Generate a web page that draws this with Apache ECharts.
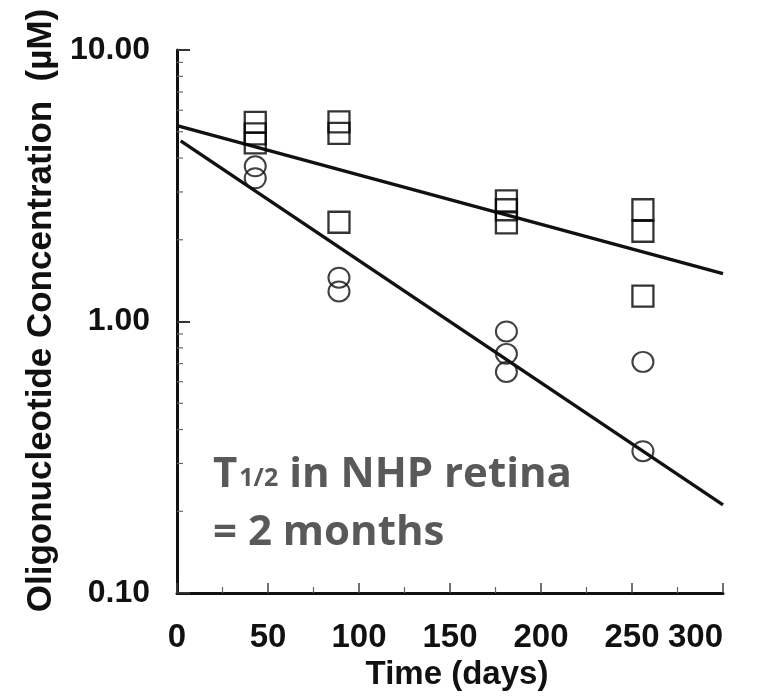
<!DOCTYPE html>
<html>
<head>
<meta charset="utf-8">
<script src="https://cdn.jsdelivr.net/npm/echarts@6/dist/echarts.min.js"></script>
<style>
  html, body { margin: 0; padding: 0; background: #fff; }
  #chart { width: 758px; height: 700px; }
</style>
</head>
<body>
<div id="chart"></div>
<script>
// Measured oligonucleotide concentrations (µM) vs time (days)
const squareDays   = [43, 43, 43, 89, 89, 89, 181, 181, 181, 256, 256, 256];
const squareConc   = [5.41, 4.91, 4.55, 5.44, 4.93, 2.32, 2.78, 2.58, 2.31, 2.58, 2.15, 1.24];
const circleDays   = [43, 43, 89, 89, 181, 181, 181, 256, 256];
const circleConc   = [3.73, 3.37, 1.45, 1.29, 0.919, 0.760, 0.652, 0.710, 0.333];

// Exponential decay fits (straight lines on the log axis)
const fitSquareDays = [0, 300];
const fitSquareConc = [5.27, 1.50];
const fitCircleDays = [2, 300];
const fitCircleConc = [4.63, 0.211];

// Axis ticks
const xTicks = [0, 50, 100, 150, 200, 250, 300];
const yMinorTicks = [0.2, 0.3, 0.4, 0.5, 0.6, 0.7, 0.8, 0.9, 2, 3, 4, 5, 6, 7, 8, 9];

const zip = (a, b) => a.map((v, i) => [v, b[i]]);
const FONT = '"Liberation Sans", Arial, Helvetica, sans-serif';
const NOTE_FONT = '"Open Sans", "Noto Sans", sans-serif';
const INK = '#111';
const NOTE = '#595959';

const chart = echarts.init(document.getElementById('chart'), null, { renderer: 'canvas' });

chart.setOption({
  animation: false,
  backgroundColor: '#fff',
  grid: { left: 177, right: 35, top: 50, bottom: 107, containLabel: false },
  xAxis: {
    type: 'value',
    min: xTicks[0],
    max: xTicks[xTicks.length - 1],
    interval: 50,
    name: 'Time (days)',
    nameLocation: 'middle',
    nameGap: 48,
    nameTextStyle: { fontFamily: FONT, fontWeight: 'bold', fontSize: 33, color: INK, padding: [0, 0, 0, 14] },
    axisLine: { show: true, onZero: false, lineStyle: { color: INK, width: 3 } },
    axisTick: { show: true, inside: true, length: 10, lineStyle: { color: '#444', width: 1.5 } },
    minorTick: { show: true, splitNumber: 2, length: 6, lineStyle: { color: '#666', width: 1.2 } },
    axisLabel: { fontFamily: FONT, fontWeight: 'bold', fontSize: 33, color: INK, margin: 28, alignMaxLabel: 'right' },
    splitLine: { show: false }
  },
  yAxis: {
    type: 'log',
    logBase: 10,
    min: 0.1,
    max: 10,
    name: 'Oligonucleotide Concentration  (\u00b5M)',
    nameLocation: 'middle',
    nameGap: 118,
    nameTextStyle: { fontFamily: FONT, fontWeight: 'bold', fontSize: 35, color: INK, padding: [0, 0, 0, 22] },
    axisLine: { show: true, onZero: false, lineStyle: { color: INK, width: 3 } },
    axisTick: { show: true, inside: true, length: 13, lineStyle: { color: '#333', width: 2 } },
    axisLabel: {
      fontFamily: FONT, fontWeight: 'bold', fontSize: 32, color: INK, margin: 27,
      formatter: v => Number(v).toFixed(2)
    },
    splitLine: { show: false }
  },
  series: [
    {
      // log-axis minor ticks at 2..9 of each decade
      type: 'custom',
      silent: true,
      clip: false,
      data: yMinorTicks.map(v => [0, v]),
      renderItem: (params, api) => {
        const p = api.coord([api.value(0), api.value(1)]);
        return {
          type: 'line',
          shape: { x1: p[0], y1: p[1], x2: p[0] + 6, y2: p[1] },
          style: { stroke: '#666', lineWidth: 1.2 }
        };
      },
      z: 1
    },
    {
      name: 'fit-squares',
      type: 'line',
      data: zip(fitSquareDays, fitSquareConc),
      showSymbol: false,
      lineStyle: { color: INK, width: 3.4 },
      clip: false,
      z: 3
    },
    {
      name: 'fit-circles',
      type: 'line',
      data: zip(fitCircleDays, fitCircleConc),
      showSymbol: false,
      lineStyle: { color: INK, width: 3.4 },
      clip: false,
      z: 3
    },
    {
      name: 'squares',
      type: 'scatter',
      data: zip(squareDays, squareConc),
      symbol: 'rect',
      symbolSize: 21,
      itemStyle: { color: 'rgba(0,0,0,0)', borderColor: '#000', borderWidth: 2.3 },
      z: 4
    },
    {
      name: 'circles',
      type: 'scatter',
      data: zip(circleDays, circleConc),
      symbol: 'circle',
      symbolSize: [21, 20],
      itemStyle: { color: 'rgba(0,0,0,0)', borderColor: '#111', borderWidth: 2 },
      z: 4
    }
  ],
  graphic: [
    {
      type: 'text',
      left: 213,
      top: 454,
      z: 10,
      style: {
        text: '{a|T}{b|1/2}{a| in NHP retina}',
        rich: {
          a: { fontFamily: NOTE_FONT, fontWeight: 'bold', fontSize: 42, fill: NOTE, lineHeight: 48, verticalAlign: 'bottom' },
          b: { fontFamily: NOTE_FONT, fontWeight: 'bold', fontSize: 25, fill: NOTE, lineHeight: 48, verticalAlign: 'bottom', padding: [0, 0, 5, 2] }
        }
      }
    },
    {
      type: 'text',
      left: 213,
      top: 509,
      z: 10,
      style: {
        text: '= 2 months',
        fontFamily: NOTE_FONT,
        fontWeight: 'bold',
        fontSize: 42,
        fill: NOTE,
        lineHeight: 48
      }
    }
  ]
});
</script>
</body>
</html>
